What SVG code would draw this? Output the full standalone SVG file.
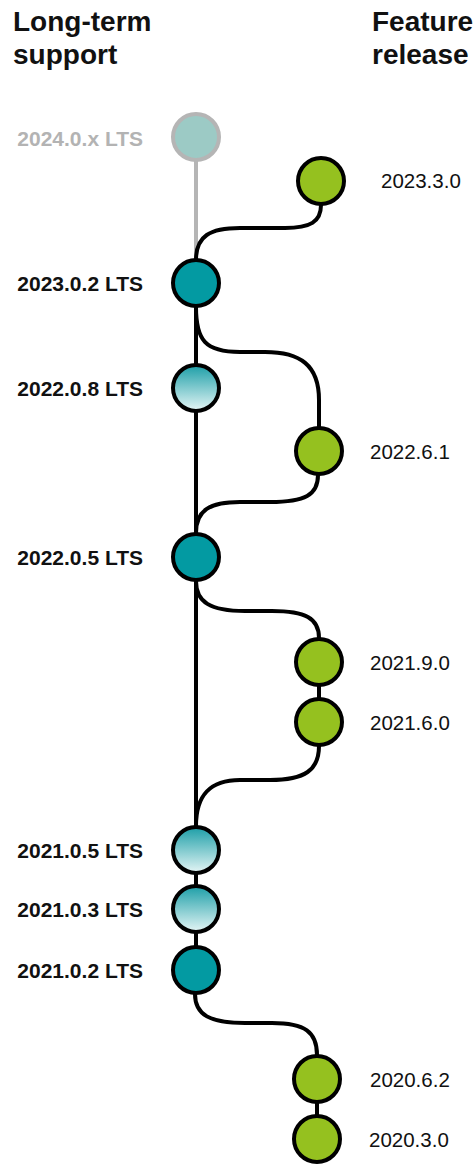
<svg xmlns="http://www.w3.org/2000/svg" width="475" height="1165" viewBox="0 0 475 1165">
<style>
.hdr{font-family:"Liberation Sans",Arial,sans-serif;font-weight:bold;font-size:28px;fill:#111}
.lts{font-family:"Liberation Sans",Arial,sans-serif;font-weight:bold;font-size:21px;fill:#111;text-anchor:end}
.feat{font-family:"Liberation Sans",Arial,sans-serif;font-size:20.5px;fill:#111}
.n{stroke:#000;stroke-width:4}
.teal{fill:#039aa2}
.grad{fill:url(#g)}
.green{fill:#95c11f}
.c{fill:none;stroke:#000;stroke-width:4}
</style>
<defs>
<linearGradient id="g" x1="0" y1="0" x2="0" y2="1">
<stop offset="0" stop-color="#1c9ea7"/>
<stop offset="1" stop-color="#e6f6f6"/>
</linearGradient>
</defs>
<g id="headers">
<text class="hdr" x="13" y="31">Long-term</text>
<text class="hdr" x="13" y="64">support</text>
<text class="hdr" x="372" y="31">Feature</text>
<text class="hdr" x="372" y="64">release</text>
</g>
<g id="connectors">
<line x1="196" y1="137" x2="196" y2="260" stroke="#b5b5b5" stroke-width="4"/>
<line class="c" x1="196" y1="283" x2="196" y2="970"/>
<path class="c" d="M321,205 C321,222 310,228 285,228 L240,228 C210,228 196,236 196,260"/>
<path class="c" d="M196,307 C196,340 205,352 240,352 L265,352 C300,352 319,365 319,400 L319,427"/>
<path class="c" d="M318,475 C318,495 305,502 270,502 L240,502 C210,502 196,510 196,533"/>
<path class="c" d="M196,581 C196,602 210,611 245,611 L272,611 C305,611 319,618 319,638"/>
<line class="c" x1="319" y1="662" x2="319" y2="722"/>
<path class="c" d="M319,746 C319,770 305,780 270,780 L240,780 C210,780 196,795 196,826"/>
<path class="c" d="M195,994 C195,1015 210,1023 245,1023 L272,1023 C305,1023 317,1032 317,1055"/>
<line class="c" x1="317" y1="1079" x2="317" y2="1139"/>
</g>
<g id="n2024">
<circle cx="196" cy="137" r="23" fill="#9ccac5" stroke="#b5b5b5" stroke-width="4"/>
<text class="lts" x="143" y="146" style="fill:#b3b3b3">2024.0.x LTS</text>
</g>
<g id="n2023_3_0">
<circle class="n green" cx="321" cy="181" r="23"/>
<text class="feat" x="381" y="188">2023.3.0</text>
</g>
<g id="n2023_0_2">
<circle class="n teal" cx="196" cy="283" r="23"/>
<text class="lts" x="143" y="291">2023.0.2 LTS</text>
</g>
<g id="n2022_0_8">
<circle class="n grad" cx="196" cy="388" r="23"/>
<text class="lts" x="143" y="396">2022.0.8 LTS</text>
</g>
<g id="n2022_6_1">
<circle class="n green" cx="319" cy="451" r="23"/>
<text class="feat" x="370" y="459">2022.6.1</text>
</g>
<g id="n2022_0_5">
<circle class="n teal" cx="196" cy="557" r="23"/>
<text class="lts" x="143" y="565">2022.0.5 LTS</text>
</g>
<g id="n2021_9_0">
<circle class="n green" cx="319" cy="662" r="23"/>
<text class="feat" x="370" y="670">2021.9.0</text>
</g>
<g id="n2021_6_0">
<circle class="n green" cx="319" cy="722" r="23"/>
<text class="feat" x="370" y="730">2021.6.0</text>
</g>
<g id="n2021_0_5">
<circle class="n grad" cx="196" cy="850" r="23"/>
<text class="lts" x="143" y="858">2021.0.5 LTS</text>
</g>
<g id="n2021_0_3">
<circle class="n grad" cx="196" cy="909" r="23"/>
<text class="lts" x="143" y="917">2021.0.3 LTS</text>
</g>
<g id="n2021_0_2">
<circle class="n teal" cx="196" cy="970" r="23"/>
<text class="lts" x="143" y="978">2021.0.2 LTS</text>
</g>
<g id="n2020_6_2">
<circle class="n green" cx="317" cy="1079" r="23"/>
<text class="feat" x="370" y="1087">2020.6.2</text>
</g>
<g id="n2020_3_0">
<circle class="n green" cx="317" cy="1139" r="23"/>
<text class="feat" x="369" y="1147">2020.3.0</text>
</g>
</svg>
